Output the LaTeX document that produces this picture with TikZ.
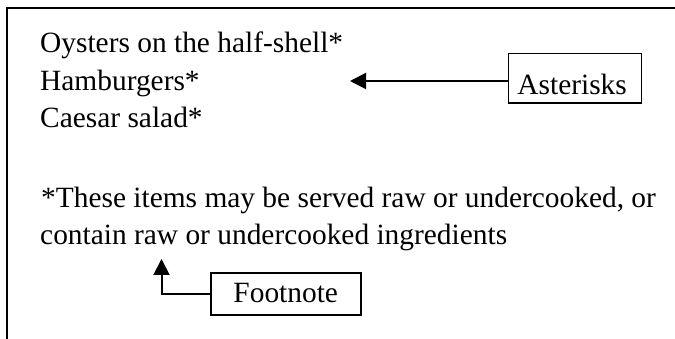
\documentclass[tikz,border=0pt]{standalone}
\usepackage{fontspec}
\setmainfont{Liberation Serif}
\usetikzlibrary{arrows.meta}
\tikzset{
  txt/.style={anchor=base west, inner sep=0pt, font=\fontsize{29.4}{34}\selectfont},
  lbox/.style={draw, line width=1.5pt, inner sep=0pt, font=\fontsize{29.4}{34}\selectfont},
  arr/.style={line width=2pt, -{Triangle[length=16pt,width=16pt]}},
  frame/.style={line width=2.2pt}
}
\begin{document}
\begin{tikzpicture}[x=1pt,y=-1pt]
\useasboundingbox (0,0) rectangle (675,339);
\draw[frame] (7,339) -- (7,8) -- (675,8);
\node[txt] (l1) at (40,53) {Oysters on the half-shell*};
\node[txt] (l2) at (40,91) {Hamburgers*};
\node[txt] (l3) at (40,128) {Caesar salad*};
\node[txt] (f1) at (41,208) {*These items may be served raw or undercooked, or};
\node[txt] (f2) at (40,245) {contain raw or undercooked ingredients};
\node[lbox, anchor=north west, inner xsep=9pt, text width=115pt, align=left,
      text height=41.3pt, text depth=8.3pt] (ast) at (507.7,52.7) {Asterisks};
\coordinate (atip) at (350,81);
\draw[arr] (ast.west |- atip) -- (atip);
\node[lbox, anchor=north west, minimum width=150pt, text height=29.4pt, text depth=12.3pt] (fn) at (210,272.3) {Footnote};
\coordinate (ftip) at (161.5,259);
\draw[arr] (fn.west) -| (ftip);
\end{tikzpicture}
\end{document}
